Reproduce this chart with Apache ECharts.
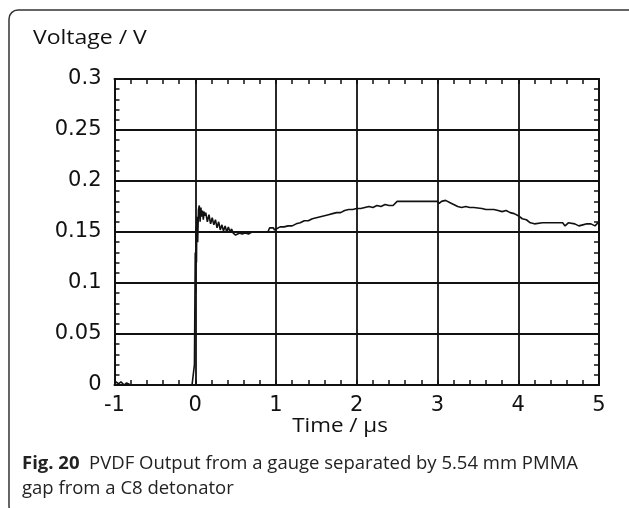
<!DOCTYPE html>
<html>
<head>
<meta charset="utf-8">
<script src="https://cdn.jsdelivr.net/npm/echarts@6/dist/echarts.min.js"></script>
<style>
  html, body { margin: 0; padding: 0; background: #fff; }
  #chart { width: 629px; height: 508px; }
</style>
</head>
<body>
<div id="chart"></div>
<script>
// PVDF gauge output: time (µs) and voltage (V)
const timeUs = [
  -1.0, -0.98, -0.95, -0.92, -0.88, -0.85, -0.8, -0.7, -0.6, -0.5, -0.4, -0.3, -0.2, -0.1, -0.04, -0.02,
  -0.01, 0.0, 0.005, 0.01, 0.015, 0.02, 0.03, 0.04, 0.05, 0.06, 0.07, 0.08, 0.09, 0.10, 0.11, 0.12, 0.13,
  0.15, 0.17, 0.19, 0.21, 0.23, 0.25, 0.27, 0.29, 0.31, 0.33, 0.35, 0.37, 0.39, 0.41, 0.43, 0.45, 0.47,
  0.50, 0.52, 0.55, 0.58, 0.62, 0.66, 0.70, 0.75, 0.80, 0.85, 0.90, 0.92, 0.97, 0.98,
  1.00, 1.05, 1.10, 1.15, 1.20, 1.25, 1.30, 1.35, 1.40, 1.45, 1.50, 1.55, 1.60, 1.65, 1.70, 1.75,
  1.80, 1.85, 1.90, 1.95, 2.00, 2.05, 2.10, 2.15, 2.20, 2.25, 2.30, 2.35, 2.40, 2.45, 2.50,
  2.60, 2.70, 2.80, 2.90, 3.00, 3.02, 3.05, 3.10, 3.15, 3.20, 3.25, 3.30, 3.35, 3.40, 3.45,
  3.55, 3.60, 3.70, 3.75, 3.80, 3.85, 3.90, 3.95, 4.00, 4.05, 4.10, 4.15, 4.20,
  4.30, 4.40, 4.55, 4.58, 4.62, 4.70, 4.75, 4.80, 4.85, 4.90, 4.95, 5.00
];
const voltageV = [
  0.0, 0.003, 0.001, 0.003, 0.0, 0.002, 0.0, 0.0, 0.0, 0.0, 0.0, 0.0, 0.0, 0.0, 0.0, 0.0,
  0.02, 0.13, 0.09, 0.155, 0.12, 0.165, 0.14, 0.172, 0.176, 0.160, 0.174, 0.165, 0.171, 0.162, 0.170, 0.166, 0.169,
  0.160, 0.167, 0.158, 0.164, 0.157, 0.162, 0.154, 0.160, 0.152, 0.157, 0.151, 0.156, 0.150, 0.155, 0.150, 0.153, 0.149,
  0.147, 0.146, 0.149, 0.148, 0.149, 0.148, 0.150, 0.150, 0.150, 0.150, 0.150, 0.154, 0.154, 0.152,
  0.153, 0.155, 0.155, 0.156, 0.156, 0.158, 0.159, 0.161, 0.161, 0.163, 0.164, 0.165, 0.166, 0.167, 0.168, 0.169,
  0.169, 0.171, 0.172, 0.172, 0.173, 0.173, 0.174, 0.175, 0.174, 0.176, 0.175, 0.177, 0.176, 0.176, 0.180,
  0.180, 0.180, 0.180, 0.180, 0.180, 0.178, 0.180, 0.181, 0.179, 0.177, 0.175, 0.174, 0.175, 0.174, 0.174,
  0.173, 0.172, 0.172, 0.171, 0.170, 0.171, 0.169, 0.168, 0.166, 0.163, 0.162, 0.159, 0.158,
  0.159, 0.159, 0.159, 0.156, 0.159, 0.158, 0.156, 0.157, 0.158, 0.158, 0.156, 0.160
];
const xTicks = { min: -1, max: 5, step: 1 };
const yTicks = { min: 0, max: 0.3, step: 0.05 };

const ink = '#111';
const labelFont = '"DejaVu Sans", sans-serif';
const textFont = '"Open Sans", "Noto Sans", sans-serif';

const chart = echarts.init(document.getElementById('chart'), null, { renderer: 'canvas' });

const gridLine = { show: true, lineStyle: { color: ink, width: 1.8 } };
const boxLine = { show: true, onZero: false, lineStyle: { color: ink, width: 2 } };
const innerTicks = { show: true, inside: true, length: 5, lineStyle: { color: ink, width: 1.5 } };
const innerMinor = { show: true, splitNumber: 5, length: 5, lineStyle: { color: ink, width: 1.5 } };

chart.setOption({
  animation: false,
  backgroundColor: '#fff',
  grid: { left: 114.5, right: 30, top: 79, bottom: 123, containLabel: false },
  xAxis: [
    {
      type: 'value', min: xTicks.min, max: xTicks.max, interval: xTicks.step,
      axisLine: boxLine, axisTick: innerTicks, minorTick: innerMinor,
      splitLine: gridLine,
      axisLabel: { color: ink, fontFamily: labelFont, fontSize: 21, margin: 10 }
    },
    {
      type: 'value', position: 'top', min: xTicks.min, max: xTicks.max, interval: xTicks.step,
      axisLine: boxLine, axisTick: innerTicks, minorTick: innerMinor,
      splitLine: { show: false }, axisLabel: { show: false }
    }
  ],
  yAxis: [
    {
      type: 'value', min: yTicks.min, max: yTicks.max, interval: yTicks.step,
      axisLine: boxLine, axisTick: innerTicks, minorTick: innerMinor,
      splitLine: gridLine,
      axisLabel: {
        color: ink, fontFamily: labelFont, fontSize: 21, margin: 13,
        formatter: v => String(+v.toFixed(2))
      }
    },
    {
      type: 'value', position: 'right', min: yTicks.min, max: yTicks.max, interval: yTicks.step,
      axisLine: boxLine, axisTick: innerTicks, minorTick: innerMinor,
      splitLine: { show: false }, axisLabel: { show: false }
    }
  ],
  series: [{
    type: 'line',
    xAxisIndex: 0, yAxisIndex: 0,
    data: timeUs.map((t, i) => [t, voltageV[i]]),
    showSymbol: false,
    lineStyle: { color: ink, width: 1.6 },
    z: 5
  }],
  graphic: [
    {
      type: 'rect', silent: true,
      shape: { x: 9, y: 10, width: 640, height: 505, r: 9 },
      style: { fill: 'none', stroke: '#333', lineWidth: 1.5 }
    },
    {
      type: 'text', x: 33, y: 38, scaleX: 1.15,
      style: {
        text: 'Voltage / V', font: '20px "Open Sans", "Noto Sans", sans-serif',
        fill: ink, textAlign: 'left', textVerticalAlign: 'middle'
      }
    },
    {
      type: 'text', x: 340, y: 426, scaleX: 1.12,
      style: {
        text: 'Time / µs', font: '20px "Open Sans", "Noto Sans", sans-serif',
        fill: ink, textAlign: 'center', textVerticalAlign: 'middle'
      }
    },
    {
      type: 'text', left: 22, top: 451,
      style: {
        text: '{b|Fig. 20}  PVDF Output from a gauge separated by 5.54 mm PMMA\ngap from a C8 detonator',
        font: '18.5px "Open Sans", "Noto Sans", sans-serif', fill: '#222', lineHeight: 25,
        rich: { b: { fontWeight: 'bold', fontSize: 18.5, fontFamily: textFont, fill: '#222' } }
      }
    }
  ]
});
</script>
</body>
</html>
